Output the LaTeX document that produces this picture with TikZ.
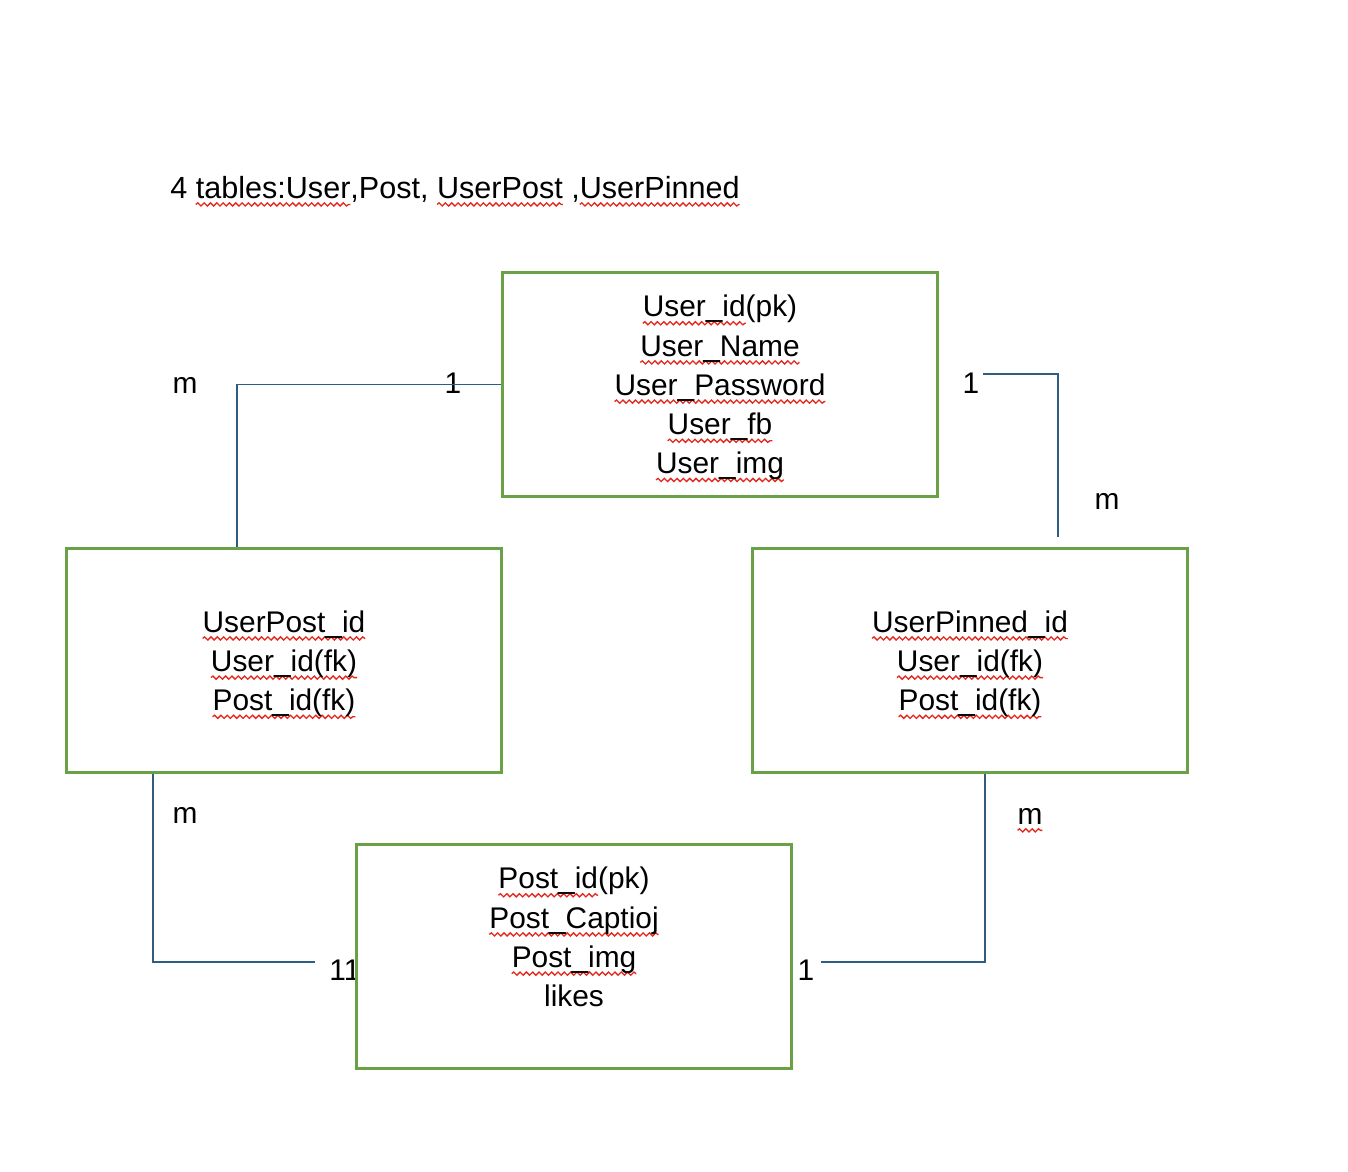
\documentclass[tikz,border=0pt]{standalone}
\usepackage{fontspec}
\setmainfont{Liberation Sans}
\usetikzlibrary{calc,decorations.pathmorphing}
\definecolor{boxgreen}{RGB}{106,160,70}
\definecolor{linkblue}{RGB}{47,93,130}
\definecolor{squigred}{RGB}{228,40,30}
\newdimen\squigwd
\def\squig#1{\setbox0\hbox{#1}\squigwd=\wd0\leavevmode\rlap{\tikz[overlay]\draw[wave] (0pt,-3.6pt) -- (\squigwd,-3.6pt);}\box0\relax}
\def\topfix{\rule{0pt}{15.8pt}}
\tikzset{
	tablebox/.style={draw=boxgreen, line width=1.7pt, fill=white, minimum width=8.72cm, minimum height=4.5cm, align=center, inner sep=0pt, font=\fontsize{17}{22.3}\selectfont},
	card/.style={inner sep=0pt, font=\fontsize{17}{20}\selectfont},
	link/.style={draw=linkblue, line width=0.6pt},
	wave/.style={draw=squigred, line width=0.75pt, decorate, decoration={snake, amplitude=0.9pt, segment length=3.6pt}}
}

\begin{document}
\begin{tikzpicture}[x=0.02cm, y=-0.02cm]
			%%%%% START %%%%%
			
			\useasboundingbox (0,0) rectangle (1348,1172);
			
			\node[card, anchor=west, font=\fontsize{17.4}{20}\selectfont] (title) at (170,189) {4 \squig{tables:User},Post, \squig{UserPost} ,\squig{UserPinned}};
			
			% cardinalities
			\node[card] (mpost) at (185,385) {m};
			\node[card] (oneuserl) at (453,383.5) {1};
			\node[card] (oneuserr) at (971,383.5) {1};
			\node[card] (mpinned) at (1107,501) {m};
			\node[card] (mpostb) at (185,815) {m};
			\node[card, anchor=west] (onepostl) at (329,970) {11};
			\node[card] (onepostr) at (806,970) {1};
			\node[card] (mpinnedb) at (1030,816) {\squig{m}};
			
			% tables
			\node[tablebox] (user) at (720,384.5) {\topfix\squig{User\_id}(pk)\\\squig{User\_Name}\\\squig{User\_Password}\\\squig{User\_fb}\\\squig{User\_img}};
			\node[tablebox] (upost) at (284,660.5) {\topfix\squig{UserPost\_id}\\\squig{User\_id(fk)}\\\squig{Post\_id(fk)}};
			\node[tablebox] (upinned) at (970,660.5) {\topfix\squig{UserPinned\_id}\\\squig{User\_id(fk)}\\\squig{Post\_id(fk)}};
			\node[tablebox] (post) at (574,956.5) {\topfix\squig{Post\_id}(pk)\\\squig{Post\_Captioj}\\\squig{Post\_img}\\likes\\\vphantom{(}};
			
			% links
			\draw[link] (user.west) -| ($(upost.north)+(-47,0)$);
			\draw[link] ($(user.east)+(44,-10.5)$) -| ($(upinned.north)+(88,-10)$);
			\draw[link] ($(upost.south)+(-131,0)$) |- ($(post.west)+(-40,5.5)$);
			\draw[link] ($(upinned.south)+(15,0)$) |- ($(post.east)+(28,5.5)$);
			
			%%%%% END %%%%%
\end{tikzpicture}
\end{document}
